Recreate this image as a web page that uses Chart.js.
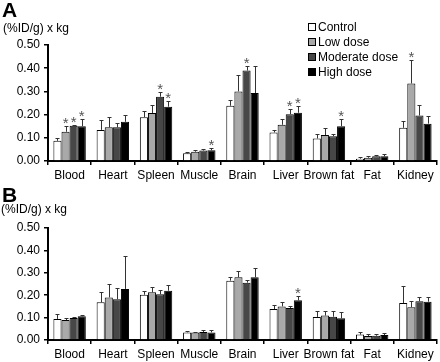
<!DOCTYPE html>
<html>
<head>
<meta charset="utf-8">
<script src="https://cdn.jsdelivr.net/npm/chart.js@4.4.1/dist/chart.umd.min.js"></script>
<style>
  body { margin: 0; background: #fff; font-family: Arial, "Liberation Sans", sans-serif; }
  #wrap { position: relative; width: 440px; height: 362px; overflow: hidden; }
  .panel { position: absolute; left: 0; }
  .big { position: absolute; font-weight: bold; font-size: 21px; line-height: 21px; color: #000; }
  .unit { position: absolute; font-size: 12px; line-height: 14px; color: #000; }
  #legend { position: absolute; left: 308px; top: 20px; font-size: 12px; color: #000; }
  #legend div { height: 15px; line-height: 15px; white-space: nowrap; }
  #legend span { display: inline-block; width: 6px; height: 6px; border: 1px solid #000; margin-right: 2px; vertical-align: 0px; }
</style>
</head>
<body>
<div id="wrap">
  <div class="panel" style="top:0"><canvas id="chartA" width="440" height="182"></canvas></div>
  <div class="panel" style="top:182px"><canvas id="chartB" width="440" height="180"></canvas></div>
  <div class="big" style="left:2px;top:-1px">A</div>
  <div class="unit" style="left:3px;top:21px">(%ID/g) x kg</div>
  <div class="big" style="left:2px;top:184px">B</div>
  <div class="unit" style="left:1px;top:202px">(%ID/g) x kg</div>
  <div id="legend"></div>
</div>
<script>
// categories and series
const organs = ["Blood", "Heart", "Spleen", "Muscle", "Brain", "Liver", "Brown fat", "Fat", "Kidney"];
const groups = ["Control", "Low dose", "Moderate dose", "High dose"];
const yTicks = [0, 0.1, 0.2, 0.3, 0.4, 0.5];

// panel A: mean, SD, significance (*)
const aControl = [0.087, 0.134, 0.189, 0.033, 0.238, 0.123, 0.097, 0.010, 0.143];
const aLow     = [0.126, 0.145, 0.207, 0.040, 0.300, 0.156, 0.112, 0.014, 0.334];
const aMod     = [0.152, 0.145, 0.277, 0.045, 0.390, 0.202, 0.107, 0.020, 0.196];
const aHigh    = [0.150, 0.169, 0.234, 0.046, 0.293, 0.208, 0.150, 0.020, 0.161];
const aControlSd = [0.013, 0.044, 0.025, 0.004, 0.026, 0.011, 0.020, 0.007, 0.031];
const aLowSd     = [0.027, 0.043, 0.034, 0.007, 0.070, 0.026, 0.031, 0.008, 0.103];
const aModSd     = [0.005, 0.020, 0.022, 0.007, 0.019, 0.020, 0.010, 0.006, 0.046];
const aHighSd    = [0.033, 0.029, 0.023, 0.010, 0.116, 0.027, 0.032, 0.009, 0.031];
const aControlSig = [0, 0, 0, 0, 0, 0, 0, 0, 0];
const aLowSig     = [1, 0, 0, 0, 0, 0, 0, 0, 1];
const aModSig     = [1, 0, 1, 0, 1, 1, 0, 0, 0];
const aHighSig    = [1, 0, 1, 1, 0, 1, 1, 0, 0];

// panel B
const bControl = [0.094, 0.168, 0.202, 0.034, 0.265, 0.138, 0.103, 0.024, 0.165];
const bLow     = [0.089, 0.190, 0.213, 0.033, 0.280, 0.150, 0.109, 0.018, 0.146];
const bMod     = [0.098, 0.182, 0.204, 0.036, 0.256, 0.143, 0.104, 0.019, 0.173];
const bHigh    = [0.106, 0.228, 0.220, 0.034, 0.280, 0.177, 0.097, 0.022, 0.171];
const bControlSd = [0.021, 0.046, 0.018, 0.005, 0.018, 0.020, 0.028, 0.012, 0.078];
const bLowSd     = [0.011, 0.059, 0.024, 0.004, 0.027, 0.018, 0.022, 0.009, 0.028];
const bModSd     = [0.003, 0.050, 0.019, 0.009, 0.012, 0.010, 0.025, 0.008, 0.020];
const bHighSd    = [0.007, 0.145, 0.026, 0.009, 0.040, 0.019, 0.028, 0.011, 0.021];
const bControlSig = [0, 0, 0, 0, 0, 0, 0, 0, 0];
const bLowSig     = [0, 0, 0, 0, 0, 0, 0, 0, 0];
const bModSig     = [0, 0, 0, 0, 0, 0, 0, 0, 0];
const bHighSig    = [0, 0, 0, 0, 0, 1, 0, 0, 0];

const fills = ["#ffffff", "#a9a9a9", "#474747", "#000000"];
const font = "Arial, 'Liberation Sans', sans-serif";

// legend
const legend = document.getElementById("legend");
groups.forEach((g, i) => {
    const row = document.createElement("div");
    row.innerHTML = `<span style="background:${fills[i]}"></span>${g}`;
    legend.appendChild(row);
});

// upper error bars + asterisks
const errorBars = {
    id: "errorBars",
    afterDatasetsDraw(chart) {
        const ctx = chart.ctx;
        const y = chart.scales.y;
        chart.data.datasets.forEach((ds, di) => {
            const meta = chart.getDatasetMeta(di);
            meta.data.forEach((bar, i) => {
                const top = Math.round(y.getPixelForValue(ds.data[i] + ds.sd[i])) + 0.5;
                const x = Math.round(bar.x) + 0.5;
                ctx.save();
                ctx.strokeStyle = "#333";
                ctx.lineWidth = 1;
                ctx.beginPath();
                ctx.moveTo(x, bar.y);
                ctx.lineTo(x, top);
                ctx.moveTo(x - 2, top);
                ctx.lineTo(x + 2, top);
                ctx.stroke();
                if (ds.sig[i]) {
                    ctx.fillStyle = "#555";
                    ctx.font = "15px " + font;
                    ctx.textAlign = "center";
                    ctx.textBaseline = "alphabetic";
                    ctx.fillText("*", bar.x, top + 1);
                }
                ctx.restore();
            });
        });
    }
};

function makeChart(id, series, sds, sigs, topPad, xHeight) {
    const datasets = groups.map((g, i) => ({
        label: g,
        data: series[i],
        sd: sds[i],
        sig: sigs[i],
        backgroundColor: fills[i],
        borderColor: "#000",
        borderWidth: 1,
        categoryPercentage: 0.75,
        barPercentage: 1.0
    }));
    return new Chart(document.getElementById(id).getContext("2d"), {
        type: "bar",
        data: { labels: organs, datasets: datasets },
        plugins: [errorBars],
        options: {
            responsive: false,
            animation: false,
            layout: { padding: { top: topPad, right: 3, left: 0, bottom: 0 } },
            plugins: { legend: { display: false }, tooltip: { enabled: false } },
            scales: {
                y: {
                    min: 0,
                    max: 0.5,
                    afterFit: (s) => { s.width = 48; },
                    afterBuildTicks: (s) => { s.ticks = yTicks.map(v => ({ value: v })); },
                    ticks: {
                        color: "#000",
                        padding: 4,
                        font: { family: font, size: 12 },
                        callback: (v) => Number(v).toFixed(2)
                    },
                    grid: { drawOnChartArea: false, drawTicks: true, tickLength: 4, color: "#000", lineWidth: 1.5 },
                    border: { color: "#000", width: 2 }
                },
                x: {
                    afterFit: (s) => { s.height = xHeight; },
                    ticks: { color: "#000", padding: 3, maxRotation: 0, autoSkip: false, font: { family: font, size: 12 } },
                    grid: { offset: true, drawOnChartArea: false, drawTicks: true, tickLength: 4, color: "#000", lineWidth: 1.5 },
                    border: { color: "#000", width: 2 }
                }
            }
        }
    });
}

makeChart("chartA",
    [aControl, aLow, aMod, aHigh],
    [aControlSd, aLowSd, aModSd, aHighSd],
    [aControlSig, aLowSig, aModSig, aHighSig],
    45, 21);

makeChart("chartB",
    [bControl, bLow, bMod, bHigh],
    [bControlSd, bLowSd, bModSd, bHighSd],
    [bControlSig, bLowSig, bModSig, bHighSig],
    46, 22);
</script>
</body>
</html>
